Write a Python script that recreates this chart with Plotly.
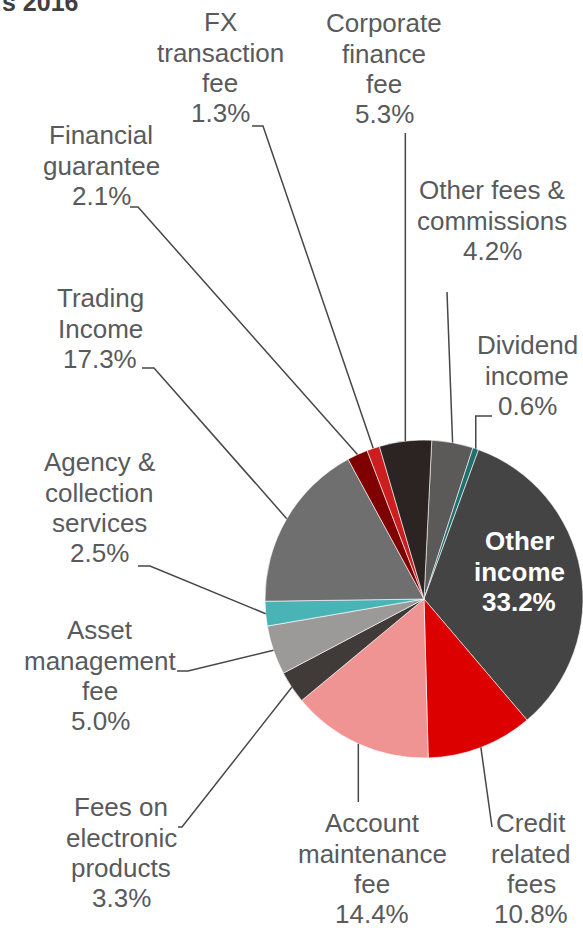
import math
import plotly.graph_objects as go

# ---------------- data ----------------
categories = [
    "Other fees & commissions", "Dividend income", "Other income",
    "Credit related fees", "Account maintenance fee", "Fees on electronic products",
    "Asset management fee", "Agency & collection services", "Trading Income",
    "Financial guarantee", "FX transaction fee", "Corporate finance fee",
]
values = [4.2, 0.6, 33.2, 10.8, 14.4, 3.3, 5.0, 2.5, 17.3, 2.1, 1.3, 5.3]
label_lines = [
    ["Other fees &", "commissions"], ["Dividend", "income"], ["Other", "income"],
    ["Credit", "related", "fees"], ["Account", "maintenance", "fee"],
    ["Fees on", "electronic", "products"], ["Asset", "management", "fee"],
    ["Agency &", "collection", "services"], ["Trading", "Income"],
    ["Financial", "guarantee"], ["FX", "transaction", "fee"],
    ["Corporate", "finance", "fee"],
]
colors = [
    "#5b5a58", "#1f6f70", "#444444", "#dc0000", "#f09393", "#403b38",
    "#9b9a99", "#4ab3b5", "#6f6f6f", "#7f0000", "#cc1e1e", "#2b2422",
]
title_text = "s 2016"

# ---------------- layout constants ----------------
W, H = 583, 928
ROT = 2.8
CX, CY, R = 424.0, 599.0, 159.0
LINE_H = 30.3
FONT = "Liberation Sans, Arial, sans-serif"
TXT = "#595a5c"
LEAD = "#474747"

# label anchor: (centre x, first baseline y) in px
label_pos = [
    (492, 199), (527, 354), (519, 550), (531, 832), (372, 832), (121, 816),
    (100, 639), (99, 471), (100, 307), (101, 144), (220, 31), (384, 32),
]
# leader start points (label side), None-x means "use edge x"
leader_pts = [
    [(447, 292)],
    [(492, 416), (None, 416)],
    None,
    [(492, 827)],
    [(None, 802)],
    [(178, 827), (182, 827)],
    [(177, 671), (188, 671)],
    [(138, 566), (150, 566)],
    [(142, 368), (154, 368)],
    [(130, 207), (138, 207)],
    [(252, 126), (263, 126)],
    [(None, 133)],
]


def px(x):
    return x / W


def py(y):
    return 1 - y / H


fig = go.Figure(go.Pie(
    labels=categories, values=values, sort=False, direction="clockwise",
    rotation=ROT, textinfo="none", hoverinfo="label+percent",
    marker=dict(colors=colors, line=dict(color="white", width=0.6)),
    domain=dict(x=[px(CX - R), 1.0], y=[py(CY + R), py(CY - R)]),
    showlegend=False,
))

annotations = []
shapes = []
total = sum(values)
cum = 0.0
for i, v in enumerate(values):
    a0 = ROT + cum / total * 360
    cum += v
    a1 = ROT + cum / total * 360
    mid = math.radians((a0 + a1) / 2)
    ex = CX + R * math.sin(mid)
    ey = CY - R * math.cos(mid)

    lines = label_lines[i] + [f"{v:.1f}%"]
    cx, by = label_pos[i]
    inside = leader_pts[i] is None
    for k, t in enumerate(lines):
        base = by + k * LINE_H
        annotations.append(dict(
            x=px(cx), y=py(base - 8.6), xref="paper", yref="paper",
            text=f"<b>{t}</b>" if inside else t, showarrow=False,
            xanchor="center", yanchor="middle",
            font=dict(family=FONT, size=26,
                      color="white" if inside else TXT),
        ))
    if not inside:
        pts = [((ex if x is None else x), y) for x, y in leader_pts[i]] + [(ex, ey)]
        path = "M " + " L ".join(f"{px(x):.5f},{py(y):.5f}" for x, y in pts)
        shapes.append(dict(type="path", xref="paper", yref="paper", path=path,
                           line=dict(color=LEAD, width=1.5)))

annotations.append(dict(
    x=px(80), y=py(10 - 8.3), xref="paper", yref="paper", text=f"<b>{title_text}</b>",
    showarrow=False, xanchor="right", yanchor="middle",
    font=dict(family=FONT, size=25, color="#404040"),
))

fig.update_layout(
    width=W, height=H, margin=dict(l=0, r=0, t=0, b=0),
    paper_bgcolor="white", plot_bgcolor="white",
    annotations=annotations, shapes=shapes,
)
fig.write_html(
    "out.html",
    config={"displayModeBar": False},
    post_script="document.body.style.margin='0';document.body.style.overflow='hidden';",
)
